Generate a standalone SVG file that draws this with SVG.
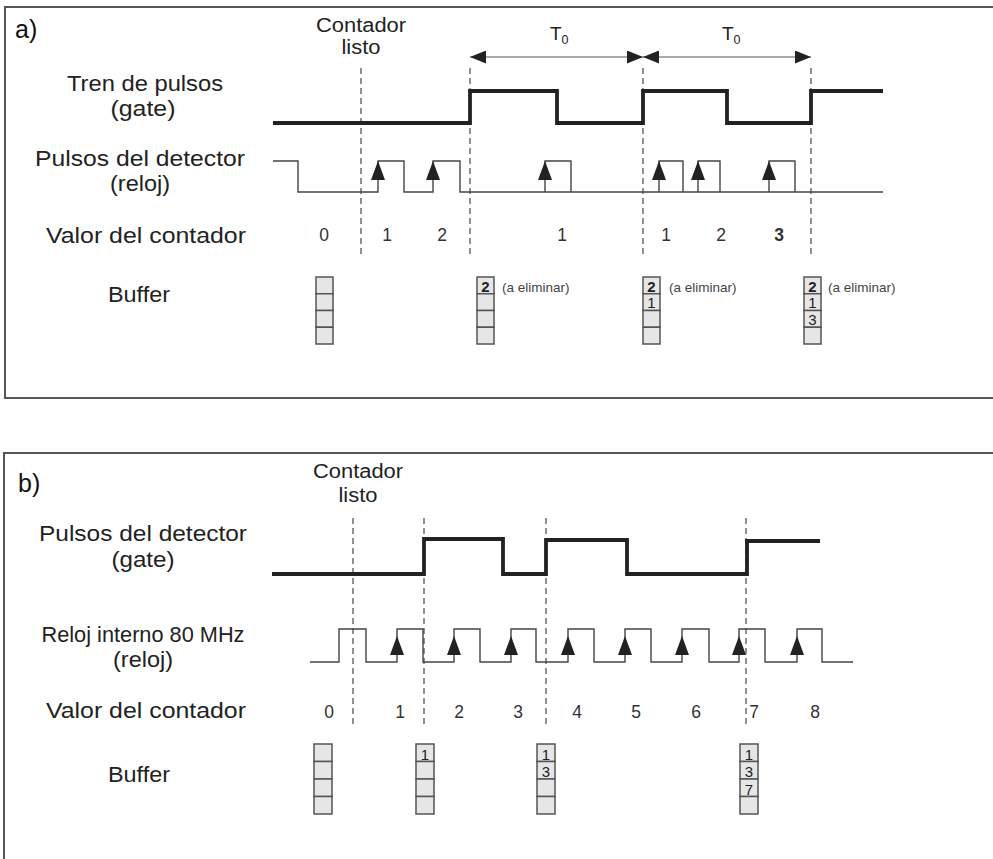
<svg xmlns="http://www.w3.org/2000/svg" width="993" height="859" viewBox="0 0 993 859">
<defs>
<style>
.lbl{font-family:"Liberation Sans",Arial,sans-serif;font-size:22px;fill:#222;text-anchor:middle}
.cl{font-family:"Liberation Sans",Arial,sans-serif;font-size:19.5px;fill:#222;text-anchor:middle}
.num{font-family:"Liberation Sans",Arial,sans-serif;font-size:17.5px;fill:#333;text-anchor:middle}
.small{font-family:"Liberation Sans",Arial,sans-serif;font-size:13.5px;fill:#444}
.cellt{font-family:"Liberation Sans",Arial,sans-serif;font-size:15px;fill:#222;text-anchor:middle}
.frame{fill:none;stroke:#444;stroke-width:1.8}
.gate{fill:none;stroke:#222;stroke-width:3.8;stroke-linejoin:miter}
.clk{fill:none;stroke:#444;stroke-width:1.4}
.dash{stroke:#555;stroke-width:1.3;stroke-dasharray:6 4}
.cell{fill:#e6e6e6;stroke:#555;stroke-width:1.5}
.tri{fill:#222}
.dim{stroke:#555;stroke-width:1;fill:none}
</style>
<marker id="ah" viewBox="0 0 16 13" refX="16" refY="6.5" markerWidth="16" markerHeight="13" markerUnits="userSpaceOnUse" orient="auto-start-reverse">
<path d="M0,0 L16,6.5 L0,13 z" fill="#222"/>
</marker>
<g id="buf4">
<rect class="cell" x="0" y="0" width="17" height="16.75"/>
<rect class="cell" x="0" y="16.75" width="17" height="16.75"/>
<rect class="cell" x="0" y="33.5" width="17" height="16.75"/>
<rect class="cell" x="0" y="50.25" width="17" height="16.75"/>
</g>
<g id="bufb">
<rect class="cell" x="0" y="0" width="18" height="17.5"/>
<rect class="cell" x="0" y="17.5" width="18" height="17.5"/>
<rect class="cell" x="0" y="35" width="18" height="17.5"/>
<rect class="cell" x="0" y="52.5" width="18" height="17.5"/>
</g>
<path id="tA" d="M0,0 L-7,19 L7,19 z"/>
</defs>
<rect width="993" height="859" fill="#fff"/>

<g id="panel-a">
<rect class="frame" x="5" y="7" width="1000" height="391"/>
<text x="15" y="38" font-family="Liberation Sans,Arial,sans-serif" font-size="25" fill="#111">a)</text>
<g id="a-labels">
<text class="lbl" x="145" y="91" textLength="156" lengthAdjust="spacingAndGlyphs">Tren de pulsos</text>
<text class="lbl" x="143" y="116" textLength="65" lengthAdjust="spacingAndGlyphs">(gate)</text>
<text class="lbl" x="140" y="166" textLength="210" lengthAdjust="spacingAndGlyphs">Pulsos del detector</text>
<text class="lbl" x="140" y="191" textLength="60" lengthAdjust="spacingAndGlyphs">(reloj)</text>
<text class="lbl" x="146" y="243" textLength="200" lengthAdjust="spacingAndGlyphs">Valor del contador</text>
<text class="lbl" x="139" y="302" textLength="62" lengthAdjust="spacingAndGlyphs">Buffer</text>
<text class="cl" x="361" y="32" textLength="90" lengthAdjust="spacingAndGlyphs">Contador</text>
<text class="cl" x="361" y="54" textLength="39" lengthAdjust="spacingAndGlyphs">listo</text>
</g>
<g id="a-dashes">
<line class="dash" x1="361" y1="68" x2="361" y2="256"/>
<line class="dash" x1="470" y1="68" x2="470" y2="256"/>
<line class="dash" x1="643" y1="68" x2="643" y2="256"/>
<line class="dash" x1="811" y1="68" x2="811" y2="256"/>
</g>
<g id="a-period">
<line class="dim" x1="470" y1="57" x2="643" y2="57" marker-start="url(#ah)" marker-end="url(#ah)"/>
<line class="dim" x1="643" y1="57" x2="811" y2="57" marker-start="url(#ah)" marker-end="url(#ah)"/>
<text x="550" y="40" font-family="Liberation Sans,Arial,sans-serif" font-size="19" fill="#222">T<tspan font-size="12.5" dy="4">0</tspan></text>
<text x="722" y="40" font-family="Liberation Sans,Arial,sans-serif" font-size="19" fill="#222">T<tspan font-size="12.5" dy="4">0</tspan></text>
</g>
<path id="a-gate" class="gate" d="M273,123 H470 V91 H557 V123 H643 V91 H727 V123 H811 V91 H883"/>
<path id="a-clock" class="clk" d="M273,161 H298 V192 H378 V161 H404 V192 H433 V161 H460 V192 H883 M659,192 V161 H683 V192 M698,192 V161 H720 V192 M769,192 V161 H795 V192 M545,192 V161 H571 V192"/>
<g id="a-edges" class="tri">
<use href="#tA" x="378" y="161"/>
<use href="#tA" x="433" y="161"/>
<use href="#tA" x="545" y="161"/>
<use href="#tA" x="659" y="161"/>
<use href="#tA" x="698" y="161"/>
<use href="#tA" x="769" y="161"/>
</g>
<g id="a-values">
<text class="num" x="324" y="241">0</text>
<text class="num" x="387" y="241">1</text>
<text class="num" x="442" y="241">2</text>
<text class="num" x="562" y="241">1</text>
<text class="num" x="666" y="241">1</text>
<text class="num" x="721" y="241">2</text>
<text class="num" x="779" y="241" font-weight="bold">3</text>
</g>
<g id="a-buffers">
<use href="#buf4" x="316" y="277"/>
<g id="a-buf2">
<use href="#buf4" x="477" y="277"/>
<text class="cellt" x="485.5" y="291.5" font-weight="bold">2</text>
<text class="small" x="502" y="292">(a eliminar)</text>
</g>
<g id="a-buf3">
<use href="#buf4" x="643" y="277"/>
<text class="cellt" x="651.5" y="291.5" font-weight="bold">2</text>
<text class="cellt" x="651.5" y="308">1</text>
<text class="small" x="669" y="292">(a eliminar)</text>
</g>
<g id="a-buf4">
<use href="#buf4" x="804" y="277"/>
<text class="cellt" x="812.5" y="291.5" font-weight="bold">2</text>
<text class="cellt" x="812.5" y="308">1</text>
<text class="cellt" x="812.5" y="325">3</text>
<text class="small" x="828" y="292">(a eliminar)</text>
</g>
</g>
</g>

<g id="panel-b">
<rect class="frame" x="4" y="453" width="1000" height="420"/>
<text x="18" y="492" font-family="Liberation Sans,Arial,sans-serif" font-size="25" fill="#111">b)</text>
<g id="b-labels">
<text class="lbl" x="143" y="541" textLength="208" lengthAdjust="spacingAndGlyphs">Pulsos del detector</text>
<text class="lbl" x="143" y="567" textLength="63" lengthAdjust="spacingAndGlyphs">(gate)</text>
<text class="lbl" x="143" y="642" textLength="203" lengthAdjust="spacingAndGlyphs">Reloj interno 80 MHz</text>
<text class="lbl" x="143" y="667" textLength="60" lengthAdjust="spacingAndGlyphs">(reloj)</text>
<text class="lbl" x="146" y="718" textLength="200" lengthAdjust="spacingAndGlyphs">Valor del contador</text>
<text class="lbl" x="139" y="782" textLength="62" lengthAdjust="spacingAndGlyphs">Buffer</text>
<text class="cl" x="358" y="478" textLength="90" lengthAdjust="spacingAndGlyphs">Contador</text>
<text class="cl" x="358" y="502" textLength="39" lengthAdjust="spacingAndGlyphs">listo</text>
</g>
<g id="b-dashes">
<line class="dash" x1="353" y1="518" x2="353" y2="727"/>
<line class="dash" x1="424" y1="518" x2="424" y2="727"/>
<line class="dash" x1="546" y1="518" x2="546" y2="727"/>
<line class="dash" x1="746" y1="518" x2="746" y2="727"/>
</g>
<path id="b-gate" class="gate" d="M272,574 H424 V539 H503 V574 H546 V540 H627 V574 H747 V541 H820"/>
<path id="b-clock" class="clk" d="M310,662 H339 V629 H366 V662 H397 V629 H423 V662 H454 V629 H480 V662 H511 V629 H536 V662 H568 V629 H594 V662 H625 V629 H651 V662 H682 V629 H709 V662 H739 V629 H765 V662 H797 V629 H822 V662 H853"/>
<g id="b-edges" class="tri">
<use href="#tA" x="397" y="636"/>
<use href="#tA" x="454" y="636"/>
<use href="#tA" x="511" y="636"/>
<use href="#tA" x="568" y="636"/>
<use href="#tA" x="625" y="636"/>
<use href="#tA" x="682" y="636"/>
<use href="#tA" x="739" y="636"/>
<use href="#tA" x="797" y="636"/>
</g>
<g id="b-values">
<text class="num" x="329" y="718">0</text>
<text class="num" x="400" y="718">1</text>
<text class="num" x="459" y="718">2</text>
<text class="num" x="518" y="718">3</text>
<text class="num" x="577" y="718">4</text>
<text class="num" x="636" y="718">5</text>
<text class="num" x="696" y="718">6</text>
<text class="num" x="754" y="718">7</text>
<text class="num" x="815" y="718">8</text>
</g>
<g id="b-buffers">
<use href="#bufb" x="314" y="744"/>
<g id="b-buf2">
<use href="#bufb" x="416" y="744"/>
<text class="cellt" x="425" y="759.5">1</text>
</g>
<g id="b-buf3">
<use href="#bufb" x="537" y="744"/>
<text class="cellt" x="546" y="759.5">1</text>
<text class="cellt" x="546" y="777">3</text>
</g>
<g id="b-buf4">
<use href="#bufb" x="740" y="744"/>
<text class="cellt" x="749" y="759.5">1</text>
<text class="cellt" x="749" y="777">3</text>
<text class="cellt" x="749" y="794.5">7</text>
</g>
</g>
</g>
</svg>
